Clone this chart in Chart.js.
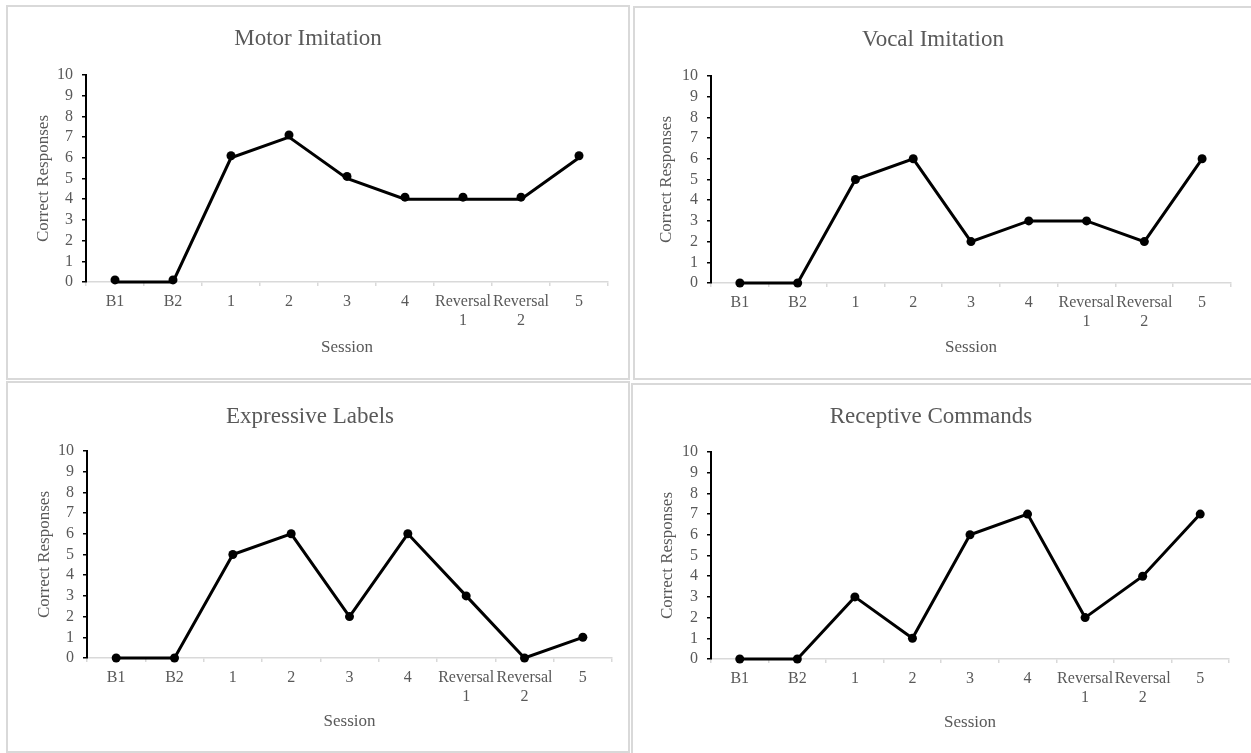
<!DOCTYPE html>
<html>
<head>
<meta charset="utf-8">
<title>Correct Responses by Session</title>
<script src="https://cdn.jsdelivr.net/npm/chart.js@4.4.1/dist/chart.umd.min.js"></script>
<style>
  body { margin: 0; background: #fff; width: 1251px; height: 753px; overflow: hidden; position: relative; }
  .panel { position: absolute; border: 2px solid #d9d9d9; box-sizing: border-box; background: #fff; }
  .panel canvas { display: block; }
</style>
</head>
<body>
<div class="panel" id="p0"><canvas id="c0"></canvas></div>
<div class="panel" id="p1"><canvas id="c1"></canvas></div>
<div class="panel" id="p2"><canvas id="c2"></canvas></div>
<div class="panel" id="p3"><canvas id="c3"></canvas></div>
<script>
// data
var sessions = ['B1', 'B2', '1', '2', '3', '4', ['Reversal', '1'], ['Reversal', '2'], '5'];
var titles = ['Motor Imitation', 'Vocal Imitation', 'Expressive Labels', 'Receptive Commands'];
var motorLine = [0, 0, 6, 7, 5, 4, 4, 4, 6];
var motorMarkers = [0.1, 0.1, 6.1, 7.1, 5.1, 4.1, 4.1, 4.1, 6.1];
var vocal = [0, 0, 5, 6, 2, 3, 3, 2, 6];
var expressive = [0, 0, 5, 6, 2, 6, 3, 0, 1];
var receptive = [0, 0, 3, 1, 6, 7, 2, 4, 7];
var yMin = 0, yMax = 10, yStep = 1;

// panel boxes and plot areas, in page pixels
var panels = [
  { box: [6, 5, 624, 375],   plot: [86, 75, 608, 282],   titleY: 39,  yTitleX: 44,  xTitleY: 348, line: motorLine,  markers: motorMarkers },
  { box: [633, 6, 622, 374], plot: [711, 76, 1231, 283], titleY: 40,  yTitleX: 667, xTitleY: 348, line: vocal,      markers: vocal },
  { box: [6, 381, 624, 372], plot: [87, 451, 612, 658],  titleY: 417, yTitleX: 45,  xTitleY: 722, line: expressive, markers: expressive },
  { box: [631, 383, 624, 374], plot: [711, 452, 1229, 659], titleY: 417, yTitleX: 668, xTitleY: 723, line: receptive, markers: receptive }
];

var serif = '"Liberation Serif", "Times New Roman", serif';
var grey = '#595959';
var B = 2; // panel border

panels.forEach(function (p, i) {
  var div = document.getElementById('p' + i);
  div.style.left = p.box[0] + 'px';
  div.style.top = p.box[1] + 'px';
  div.style.width = p.box[2] + 'px';
  div.style.height = p.box[3] + 'px';

  var ox = p.box[0] + B, oy = p.box[1] + B;
  var cw = p.box[2] - 2 * B, ch = p.box[3] - 2 * B;
  var canvas = document.getElementById('c' + i);
  canvas.width = cw;
  canvas.height = ch;

  var titleLH = 23 * 1.2;
  var titlePadTop = p.titleY - oy - titleLH / 2;
  var titlePadBottom = p.plot[1] - oy - titlePadTop - titleLH;
  var yAxisWidth = p.plot[0] - ox;
  var xAxisHeight = oy + ch - p.plot[3];
  var padRight = ox + cw - p.plot[2];
  var axisLH = 17 * 1.2;

  new Chart(canvas.getContext('2d'), {
    type: 'line',
    data: {
      labels: sessions,
      datasets: [{
        data: p.line,
        borderColor: '#000',
        borderWidth: 3,
        pointRadius: 0,
        tension: 0,
        clip: false
      }, {
        data: p.markers,
        showLine: false,
        pointRadius: 4.5,
        pointBackgroundColor: '#000',
        pointBorderColor: '#000',
        pointBorderWidth: 0,
        clip: false
      }]
    },
    options: {
      responsive: false,
      animation: false,
      layout: { padding: { left: 0, right: padRight, top: 0, bottom: 0 } },
      plugins: {
        legend: { display: false },
        tooltip: { enabled: false },
        title: {
          display: true,
          text: titles[i],
          color: grey,
          font: { family: serif, size: 23, weight: 'normal', lineHeight: 1.2 },
          padding: { top: titlePadTop, bottom: titlePadBottom }
        }
      },
      scales: {
        x: {
          offset: true,
          grid: { offset: true, drawOnChartArea: false, drawTicks: true, tickLength: 4, color: '#d9d9d9', lineWidth: 1.5 },
          border: { color: '#d9d9d9', width: 1.5 },
          ticks: { color: grey, font: { family: serif, size: 16, lineHeight: 1.15 }, padding: 7, maxRotation: 0, autoSkip: false },
          title: {
            display: true, text: 'Session', color: grey,
            font: { family: serif, size: 17, lineHeight: 1.2 },
            padding: { top: 0, bottom: oy + ch - axisLH / 2 - p.xTitleY }
          },
          afterFit: function (scale) { scale.height = xAxisHeight; }
        },
        y: {
          min: yMin,
          max: yMax,
          ticks: { stepSize: yStep, autoSkip: false, color: grey, font: { family: serif, size: 16 }, padding: 9 },
          grid: { drawOnChartArea: false, drawTicks: true, tickLength: 4, color: '#000', lineWidth: 1.5 },
          border: { color: '#000', width: 2 },
          title: {
            display: true, text: 'Correct Responses', color: grey,
            font: { family: serif, size: 17, lineHeight: 1.2 },
            padding: { top: p.yTitleX - ox - axisLH / 2, bottom: 0 }
          },
          afterFit: function (scale) { scale.width = yAxisWidth; }
        }
      }
    }
  });
});
</script>
</body>
</html>
